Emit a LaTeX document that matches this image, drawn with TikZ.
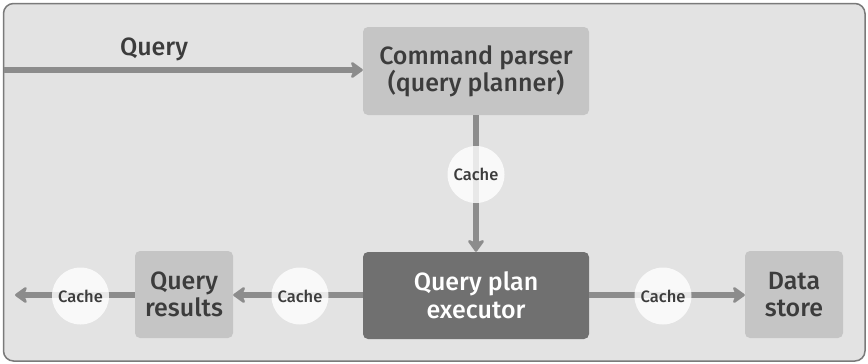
\documentclass[tikz,border=0pt]{standalone}
\usepackage{fontspec}
\setmainfont{Fira Sans}[UprightFont=* Medium]
\usetikzlibrary{arrows.meta}
\definecolor{bgc}{HTML}{E3E3E3}
\definecolor{framec}{HTML}{7A7A7A}
\definecolor{boxc}{HTML}{C5C5C5}
\definecolor{darkbox}{HTML}{707070}
\definecolor{linec}{HTML}{8C8C8C}
\definecolor{txt}{HTML}{3C3C3C}
\tikzset{
  lightbox/.style={fill=boxc, rounded corners=5pt, inner sep=0pt, text=txt,
    font=\fontsize{25}{27}\selectfont, align=center},
  darkboxst/.style={fill=darkbox, rounded corners=5pt, inner sep=0pt, text=white,
    font=\fontsize{25}{28}\selectfont, align=center},
  cachest/.style={circle, fill=white, fill opacity=0.8, text opacity=1, text=txt,
    minimum size=57pt, inner sep=0pt, font=\fontsize{16.5}{18}\selectfont},
  flow/.style={draw=linec, line width=5.5pt,
    -{Stealth[length=14pt, width=20pt, inset=4pt, round]}},
  plain/.style={draw=linec, line width=5.5pt},
}
\begin{document}
\begin{tikzpicture}[x=1pt,y=-1pt]
\useasboundingbox (0,0) rectangle (868,364);
\draw[fill=bgc, draw=framec, line width=1.5pt, rounded corners=10pt] (3.5,3.5) rectangle (865,361);
% boxes
\node[lightbox, minimum width=226pt, minimum height=88pt] (parser) at (476,71) {Command parser\\(query planner)};
\node[darkboxst, minimum width=226pt, minimum height=87pt] (exec) at (476,295.5) {Query plan\\executor};
\node[lightbox, minimum width=98pt, minimum height=87pt] (results) at (184,294.5) {Query\\results};
\node[lightbox, minimum width=98pt, minimum height=87pt] (store) at (794,294.5) {Data\\store};
\coordinate (qin) at (3.5,70);
\coordinate (out) at (15,295);
% label
\node[text=txt, font=\fontsize{25}{27}\selectfont, inner sep=0pt] (qlabel) at (154,49) {Query};
% connectors
\draw[flow] (qin) -- (qin -| parser.west);
\draw[flow] (parser.south) -- (exec.north);
\draw[flow] (exec.west |- 0,295) -- (results.east |- 0,295);
\draw[flow] (results.west |- 0,295) -- (out);
\draw[flow] (exec.east |- 0,295) -- (store.west |- 0,295);
% caches
\node[cachest] (c1) at (476,174.5) {Cache};
\node[cachest] (c2) at (80.5,296) {Cache};
\node[cachest] (c3) at (300,296) {Cache};
\node[cachest] (c4) at (663,296) {Cache};
\end{tikzpicture}
\end{document}
